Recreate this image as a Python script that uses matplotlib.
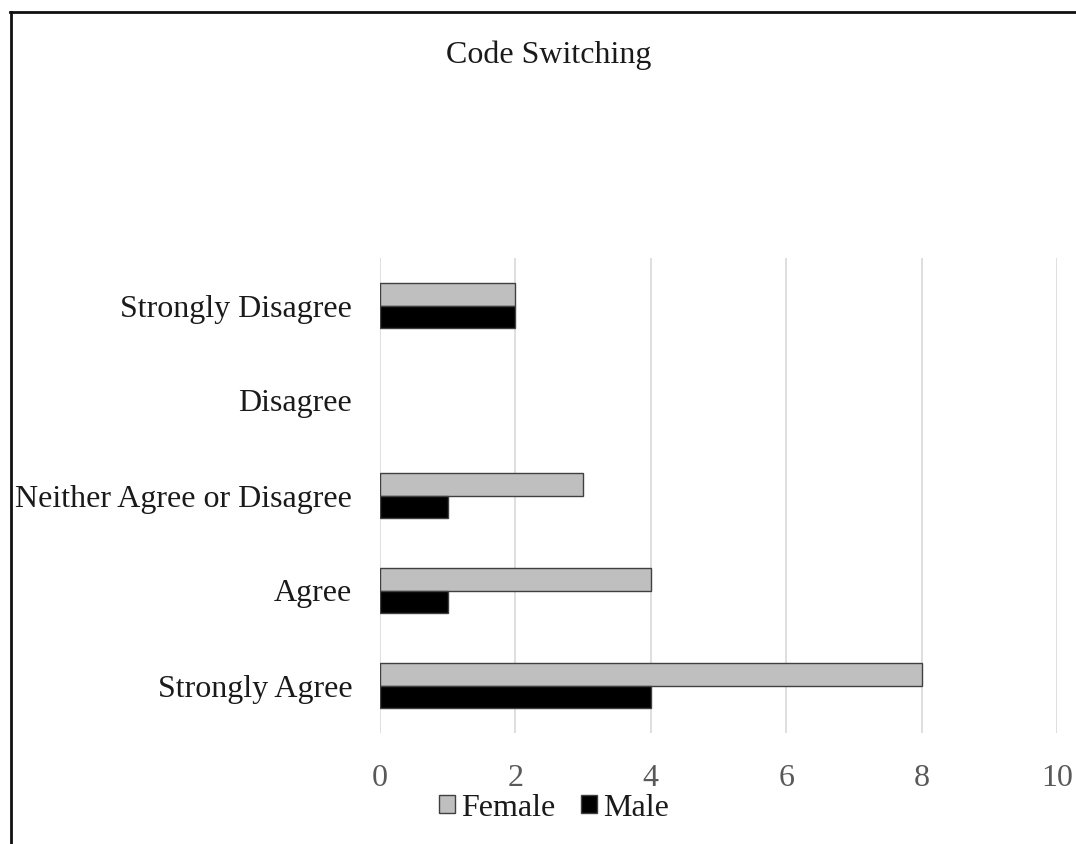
import matplotlib
matplotlib.use("Agg")
import matplotlib.pyplot as plt
from matplotlib.lines import Line2D
import numpy as np

categories = ["Strongly Agree", "Agree", "Neither Agree or Disagree", "Disagree", "Strongly Disagree"]
female = [8, 4, 3, 0, 2]
male = [4, 1, 1, 0, 2]
xticks = [0, 2, 4, 6, 8, 10]

plt.rcParams["font.family"] = ["Liberation Serif", "DejaVu Serif"]

W, H = 1076, 844
fig = plt.figure(figsize=(W / 100, H / 100), dpi=100)
ax = fig.add_axes([380 / W, 1 - 733 / H, (1057 - 380) / W, (733 - 258) / H])

y = np.arange(len(categories))
h = 0.237
fb = ax.barh(y + h / 2, female, height=h, color="#bfbfbf", edgecolor="#404040", linewidth=1.0, label="Female", zorder=3)
mb = ax.barh(y - h / 2, male, height=h, color="#000000", edgecolor="#404040", linewidth=1.0, label="Male", zorder=3)
# zero-length bars get no outline
for bars, vals in ((fb, female), (mb, male)):
    for rect, v in zip(bars, vals):
        if v == 0:
            rect.set_visible(False)

ax.set_xlim(0, 10)
ax.set_ylim(-0.5, len(categories) - 0.5)
ax.set_xticks(xticks)
ax.set_xticklabels([str(v) for v in xticks], fontsize=23, color="#595959")
ax.set_yticks(y)
ax.set_yticklabels(categories, fontsize=23, color="#1a1a1a")
ax.tick_params(axis="both", length=0)
ax.tick_params(axis="x", pad=22)
ax.tick_params(axis="y", pad=20)
ax.grid(axis="x", color="#d9d9d9", linewidth=1.2, zorder=0)
for s in ax.spines.values():
    s.set_visible(False)

fig.text(549 / W, 1 - 55 / H, "Code Switching", ha="center", va="center", fontsize=23, color="#1a1a1a")

handles, labels = ax.get_legend_handles_labels()
leg = fig.legend(handles, labels, loc="center", bbox_to_anchor=(554 / W, 1 - 808 / H), ncol=2, frameon=False,
                 fontsize=23, handlelength=0.5, handleheight=0.5, handletextpad=0.2, columnspacing=0.8)
for t in leg.get_texts():
    t.set_color("#1a1a1a")

# outer frame (left and top edges)
fig.add_artist(Line2D([11 / W, 11 / W], [0, 1 - 12 / H], transform=fig.transFigure, color="#111111", linewidth=2))
fig.add_artist(Line2D([10 / W, 1], [1 - 12 / H, 1 - 12 / H], transform=fig.transFigure, color="#111111", linewidth=2))

fig.savefig("out.png", dpi=100, facecolor="white")
